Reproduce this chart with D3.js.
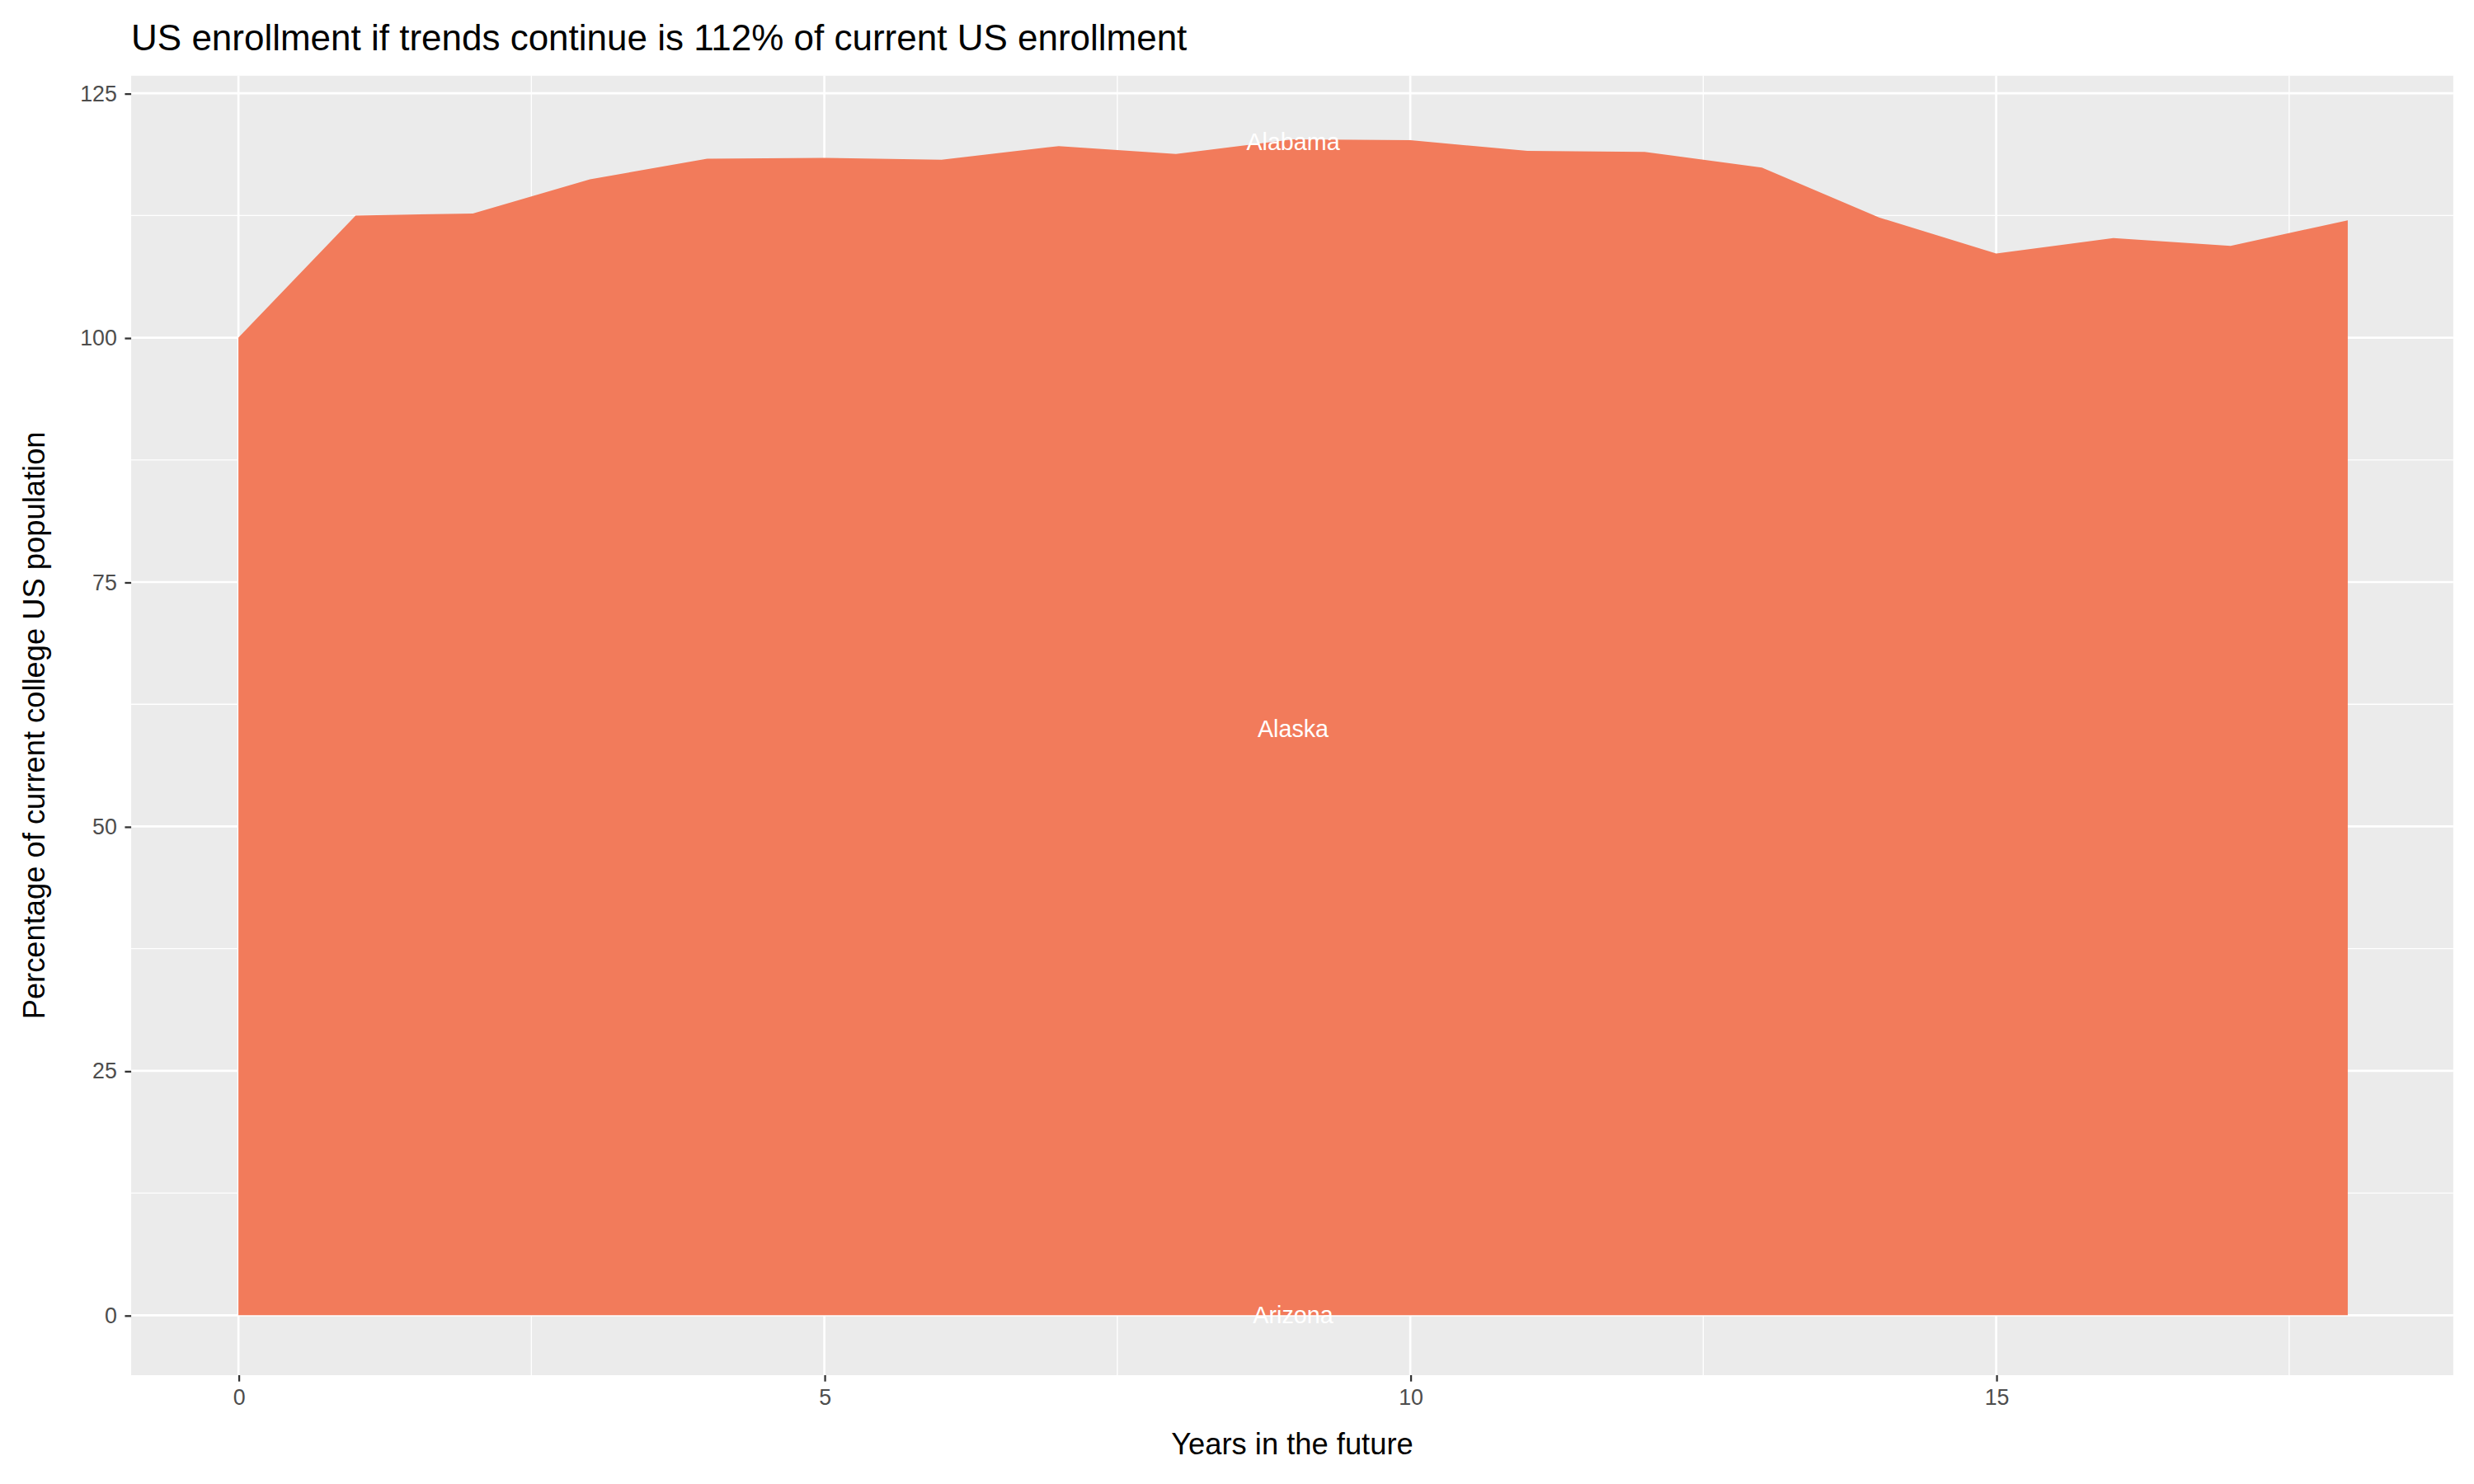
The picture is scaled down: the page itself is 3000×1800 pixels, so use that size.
<!DOCTYPE html>
<html>
<head>
<meta charset="utf-8">
<script src="https://d3js.org/d3.v7.min.js"></script>
<style>
  body { margin: 0; background: #fff; }
  text { font-family: "Liberation Sans", Arial, sans-serif; }
</style>
</head>
<body>
<div id="chart"></div>
<script>
// data
var years = [0, 1, 2, 3, 4, 5, 6, 7, 8, 9, 10, 11, 12, 13, 14, 15, 16, 17, 18];
var pct = [100, 112.5, 112.7, 116.2, 118.3, 118.4, 118.2, 119.6, 118.8, 120.3, 120.2, 119.1, 119.0, 117.4, 112.3, 108.6, 110.2, 109.4, 112.0];
var labels = ["Alabama", "Alaska", "Arizona"];
var labelY = [120, 60, 0];
var labelX = 9;
var xTicks = [0, 5, 10, 15];
var yTicks = [0, 25, 50, 75, 100, 125];

var W = 1568, H = 941;
var panel = {left: 83, right: 1555, top: 48, bottom: 872};

var svg = d3.select("#chart").append("svg")
    .attr("width", 3000).attr("height", 1800)
    .attr("viewBox", "0 0 " + W + " " + H);

var x = d3.scaleLinear().domain([-0.915, 18.9]).range([panel.left, panel.right]);
var y = d3.scaleLinear().domain([-6.13, 126.8]).range([panel.bottom, panel.top]);

// panel background
svg.append("rect")
    .attr("x", panel.left).attr("y", panel.top)
    .attr("width", panel.right - panel.left).attr("height", panel.bottom - panel.top)
    .attr("fill", "#ebebeb");

// minor grid
[2.5, 7.5, 12.5, 17.5].forEach(function(v) {
  svg.append("line").attr("x1", x(v)).attr("x2", x(v)).attr("y1", panel.top).attr("y2", panel.bottom)
    .attr("stroke", "#fff").attr("stroke-width", 0.7);
});
[12.5, 37.5, 62.5, 87.5, 112.5].forEach(function(v) {
  svg.append("line").attr("y1", y(v)).attr("y2", y(v)).attr("x1", panel.left).attr("x2", panel.right)
    .attr("stroke", "#fff").attr("stroke-width", 0.7);
});
// major grid
xTicks.forEach(function(v) {
  svg.append("line").attr("x1", x(v)).attr("x2", x(v)).attr("y1", panel.top).attr("y2", panel.bottom)
    .attr("stroke", "#fff").attr("stroke-width", 1.4);
});
yTicks.forEach(function(v) {
  svg.append("line").attr("y1", y(v)).attr("y2", y(v)).attr("x1", panel.left).attr("x2", panel.right)
    .attr("stroke", "#fff").attr("stroke-width", 1.4);
});

// area
var data = years.map(function(d, i) { return [d, pct[i]]; });
svg.append("path")
    .datum(data)
    .attr("fill", "#f27b5b")
    .attr("d", d3.area()
      .x(function(d) { return x(d[0]); })
      .y0(y(0))
      .y1(function(d) { return y(d[1]); }));

// labels
labels.forEach(function(l, i) {
  svg.append("text").attr("x", x(labelX)).attr("y", y(labelY[i]))
    .attr("dy", "0.35em").attr("text-anchor", "middle")
    .attr("fill", "#fff").attr("font-size", 15).text(l);
});

// axes
var xAxis = svg.append("g").attr("transform", "translate(0," + panel.bottom + ")")
    .call(d3.axisBottom(x).tickValues(xTicks).tickSize(4).tickPadding(5));
var yAxis = svg.append("g").attr("transform", "translate(" + panel.left + ",0)")
    .call(d3.axisLeft(y).tickValues(yTicks).tickSize(4).tickPadding(5));
[xAxis, yAxis].forEach(function(a) {
  a.select(".domain").remove();
  a.selectAll(".tick line").attr("stroke", "#333").attr("stroke-width", 1.2);
  a.selectAll("text").attr("fill", "#4d4d4d").attr("font-size", 14)
    .attr("font-family", "Liberation Sans, Arial, sans-serif");
});

// titles
svg.append("text").attr("x", 83).attr("y", 32).attr("font-size", 23).attr("fill", "#000")
    .text("US enrollment if trends continue is 112% of current US enrollment");
svg.append("text").attr("x", (panel.left + panel.right) / 2).attr("y", 922)
    .attr("text-anchor", "middle").attr("font-size", 19)
    .text("Years in the future");
svg.append("text")
    .attr("transform", "translate(28," + (panel.top + panel.bottom) / 2 + ") rotate(-90)")
    .attr("text-anchor", "middle").attr("font-size", 19)
    .text("Percentage of current college US population");
</script>
</body>
</html>
